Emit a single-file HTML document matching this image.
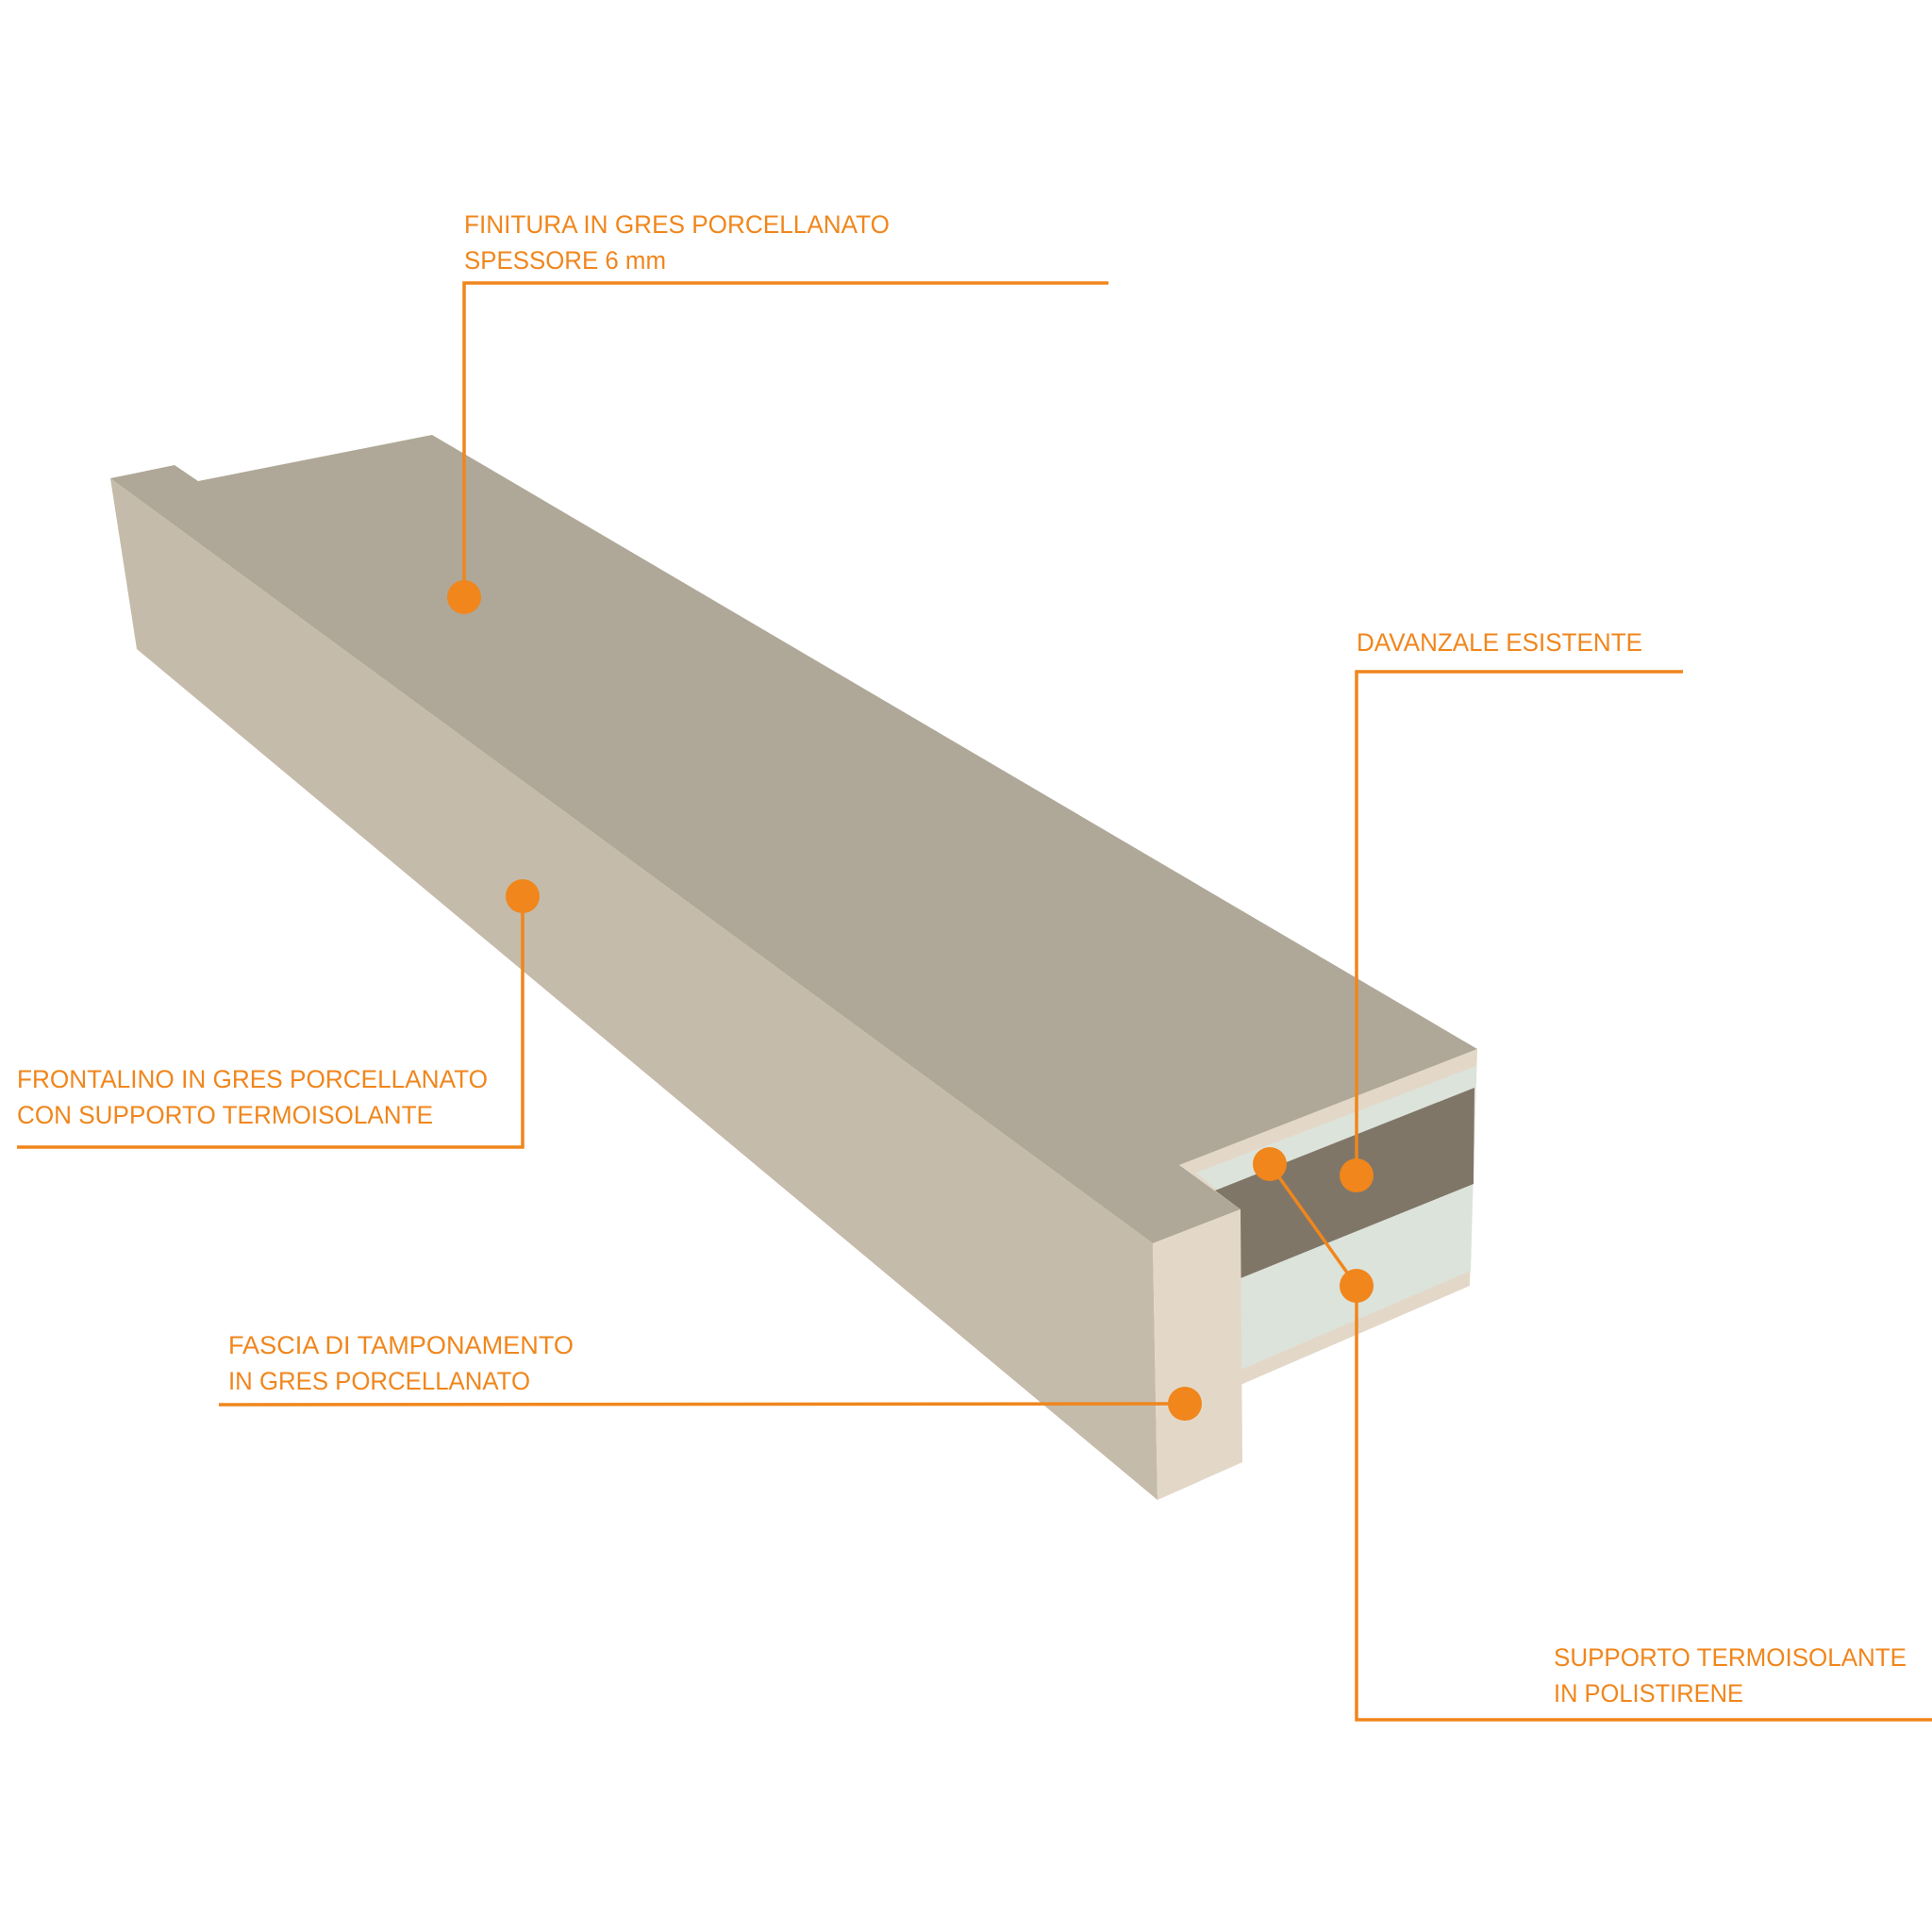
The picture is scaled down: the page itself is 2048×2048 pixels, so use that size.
<!DOCTYPE html>
<html><head><meta charset="utf-8"><style>html,body{margin:0;padding:0;background:#fff}svg{display:block}</style></head>
<body>
<svg width="2048" height="2048" viewBox="0 0 2048 2048" xmlns="http://www.w3.org/2000/svg">
<rect width="2048" height="2048" fill="#fff"/>
<!-- end layers -->
<polygon points="1250,1235 1566,1112 1558,1363 1315,1468 1315,1282" fill="#e3d8c8"/>
<polygon points="1268,1243 1565,1130 1559,1347 1315,1452 1315,1282" fill="#dce3db"/>
<polygon points="1288,1262 1563,1153 1562,1255 1315,1355 1315,1282" fill="#7f7668"/>
<!-- top surface -->
<polygon points="117,507 185,493 210,510 458,461 1566,1112 1250,1235 1315,1282 1222,1318" fill="#afa898"/>
<!-- front face -->
<polygon points="117,507 1222,1318 1227,1590 145,688" fill="#c4bbaa"/>
<!-- end cap -->
<polygon points="1222,1318 1315,1282 1317,1550 1227,1590" fill="#e3d8c8"/>

<g stroke="#f0861c" stroke-width="3.5" fill="none">
<polyline points="1175,300 492,300 492,633"/>
<polyline points="1784,712 1438,712 1438,1246"/>
<polyline points="1346,1234 1438,1363 1438,1823 2048,1823"/>
<polyline points="554,950 554,1216 18,1216"/>
<polyline points="232,1489 1256,1488"/>
</g>
<g fill="#f0861c">
<circle cx="492" cy="633" r="18"/>
<circle cx="1438" cy="1246" r="18"/>
<circle cx="1346" cy="1234" r="18"/>
<circle cx="1438" cy="1363" r="18"/>
<circle cx="554" cy="950" r="18"/>
<circle cx="1256" cy="1488" r="18"/>
</g>
<g fill="#f0861c" font-family="Liberation Sans, sans-serif" font-size="27">
<text x="492" y="247" textLength="451" lengthAdjust="spacingAndGlyphs">FINITURA IN GRES PORCELLANATO</text>
<text x="492" y="285" textLength="214" lengthAdjust="spacingAndGlyphs">SPESSORE 6 mm</text>
<text x="1438" y="690" textLength="303" lengthAdjust="spacingAndGlyphs">DAVANZALE ESISTENTE</text>
<text x="1647" y="1766" textLength="374" lengthAdjust="spacingAndGlyphs">SUPPORTO TERMOISOLANTE</text>
<text x="1647" y="1804" textLength="201" lengthAdjust="spacingAndGlyphs">IN POLISTIRENE</text>
<text x="18" y="1153" textLength="499" lengthAdjust="spacingAndGlyphs">FRONTALINO IN GRES PORCELLANATO</text>
<text x="18" y="1191" textLength="441" lengthAdjust="spacingAndGlyphs">CON SUPPORTO TERMOISOLANTE</text>
<text x="242" y="1435" textLength="366" lengthAdjust="spacingAndGlyphs">FASCIA DI TAMPONAMENTO</text>
<text x="242" y="1473" textLength="320" lengthAdjust="spacingAndGlyphs">IN GRES PORCELLANATO</text>
</g>
</svg>
</body></html>
